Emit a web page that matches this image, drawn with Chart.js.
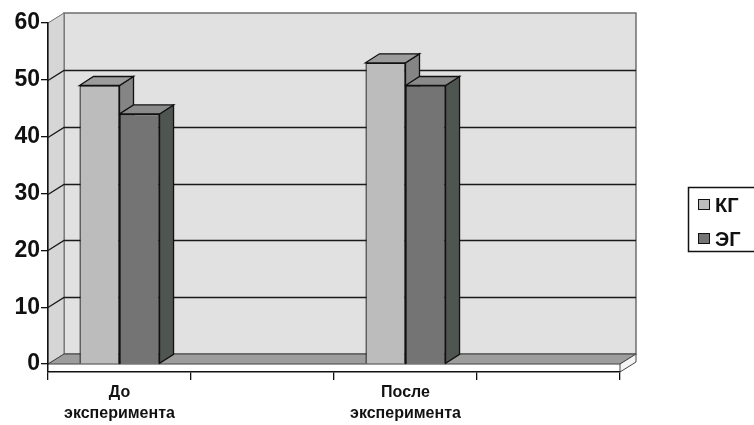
<!DOCTYPE html>
<html>
<head>
<meta charset="utf-8">
<script src="https://cdn.jsdelivr.net/npm/chart.js@4.4.1/dist/chart.umd.min.js"></script>
<style>
    html, body { margin: 0; padding: 0; background: #fff; }
    #wrap { width: 754px; height: 425px; position: relative; }
</style>
</head>
<body>
<div id="wrap"><canvas id="chart"></canvas></div>
<script>
(function () {
    "use strict";

    const categories = [["До", "эксперимента"], "", ["После", "эксперимента"], ""];
    const kgValues = [49, null, 53, null];
    const egValues = [44, null, 49, null];
    const yTicks = [0, 10, 20, 30, 40, 50, 60];
    const seriesNames = ["КГ", "ЭГ"];

    // fake 3D offsets (walls / bars)
    const WALL = { dx: 16, dy: -10 };
    const DEPTH = { dx: 14, dy: -9 };

    const faces = [
        { front: "#bcbcbc", top: "#9c9c9c", side: "#858585" },
        { front: "#747474", top: "#8a8a8a", side: "#4f5652" },
    ];

    const poly = (ctx, pts, fill, stroke, lw) => {
        ctx.beginPath();
        ctx.moveTo(pts[0][0], pts[0][1]);
        for (let i = 1; i < pts.length; i++) ctx.lineTo(pts[i][0], pts[i][1]);
        ctx.closePath();
        if (fill) {
            ctx.fillStyle = fill;
            ctx.fill();
        }
        if (stroke) {
            ctx.strokeStyle = stroke;
            ctx.lineWidth = lw || 1;
            ctx.stroke();
        }
    };

    const walls = {
        id: "walls",
        beforeDraw(chart) {
            const { ctx, chartArea: a, scales } = chart;
            const L = a.left, R = a.right, B = a.bottom;
            const y0 = scales.y.getPixelForValue(0);
            const yTop = scales.y.getPixelForValue(yTicks[yTicks.length - 1]);
            const dx = WALL.dx, dy = WALL.dy;
            ctx.save();
            // back wall
            poly(ctx, [[L + dx, yTop + dy], [R + dx, yTop + dy], [R + dx, y0 + dy], [L + dx, y0 + dy]], "#e1e1e1", "#6f6f6f", 1.5);
            // left side wall
            poly(ctx, [[L, yTop], [L + dx, yTop + dy], [L + dx, y0 + dy], [L, y0]], "#d6d6d6", "#6f6f6f", 1);
            // floor + slab
            poly(ctx, [[L, y0], [R, y0], [R + dx, y0 + dy], [L + dx, y0 + dy]], "#9d9d9d", "#444", 1);
            poly(ctx, [[R, y0], [R + dx, y0 + dy], [R + dx, B + dy], [R, B]], "#f4f4f4", "#444", 1);
            // gridlines
            ctx.strokeStyle = "#1a1a1a";
            ctx.lineWidth = 1.4;
            yTicks.slice(1, -1).forEach((v) => {
                const yy = Math.round(scales.y.getPixelForValue(v)) + 0.5;
                ctx.beginPath();
                ctx.moveTo(L, yy);
                ctx.lineTo(L + dx, yy + dy);
                ctx.lineTo(R + dx, yy + dy);
                ctx.stroke();
            });
            ctx.restore();
        },
    };

    const barDepth = {
        id: "barDepth",
        beforeDatasetsDraw(chart) {
            const ctx = chart.ctx;
            const items = [];
            chart.data.datasets.forEach((ds, i) => {
                chart.getDatasetMeta(i).data.forEach((el, j) => {
                    if (ds.data[j] == null) return;
                    items.push({ el, c: faces[i] });
                });
            });
            items.sort((p, q) => p.el.x - q.el.x);
            ctx.save();
            items.forEach(({ el, c }) => {
                const l = el.x - el.width / 2, r = el.x + el.width / 2;
                const t = el.y, b = el.base;
                poly(ctx, [[r, t], [r + DEPTH.dx, t + DEPTH.dy], [r + DEPTH.dx, b + DEPTH.dy], [r, b]], c.side, "#111", 1.3);
                poly(ctx, [[l, t], [r, t], [r + DEPTH.dx, t + DEPTH.dy], [l + DEPTH.dx, t + DEPTH.dy]], c.top, "#111", 1.3);
            });
            ctx.restore();
        },
    };

    const sideLegend = {
        id: "sideLegend",
        afterDraw(chart) {
            const ctx = chart.ctx;
            ctx.save();
            ctx.strokeStyle = "#111";
            ctx.lineWidth = 1.5;
            ctx.strokeRect(688.5, 187.5, 80, 64);
            ctx.font = "bold 20px 'Liberation Sans', Arial, sans-serif";
            ctx.textBaseline = "middle";
            chart.data.datasets.forEach((ds, i) => {
                const cy = 205 + i * 34;
                ctx.fillStyle = faces[i].front;
                ctx.fillRect(698, cy - 6, 12, 11);
                ctx.lineWidth = 1;
                ctx.strokeRect(698.5, cy - 5.5, 11, 10);
                ctx.fillStyle = "#111";
                ctx.fillText(ds.label, 715, cy + 1);
            });
            ctx.restore();
        },
    };

    new Chart(document.getElementById("chart"), {
        type: "bar",
        data: {
            labels: categories,
            datasets: [
                {
                    label: seriesNames[0],
                    data: kgValues,
                    backgroundColor: faces[0].front,
                    borderColor: "#111",
                    borderWidth: 1.3,
                },
                {
                    label: seriesNames[1],
                    data: egValues,
                    backgroundColor: faces[1].front,
                    borderColor: "#111",
                    borderWidth: 1.3,
                },
            ],
        },
        options: {
            responsive: true,
            maintainAspectRatio: false,
            animation: false,
            categoryPercentage: 0.56,
            barPercentage: 1,
            layout: {
                padding: { top: 23, right: 134, left: 0, bottom: 0 },
            },
            plugins: {
                legend: { display: false },
                tooltip: { enabled: false },
            },
            scales: {
                x: {
                    grid: {
                        offset: true,
                        drawOnChartArea: false,
                        tickLength: 8,
                        color: "#111",
                        lineWidth: 1.3,
                    },
                    border: { color: "#111", width: 1.5 },
                    ticks: {
                        color: "#111",
                        font: { family: "'Liberation Sans', Arial", size: 16, weight: "bold", lineHeight: 1.3 },
                        maxRotation: 0,
                        autoSkip: false,
                        padding: 2,
                    },
                    afterFit(s) {
                        s.height = 53;
                    },
                },
                y: {
                    min: -1.4,
                    max: 60,
                    afterBuildTicks(s) {
                        s.ticks = yTicks.map((v) => ({ value: v }));
                    },
                    grid: {
                        drawOnChartArea: false,
                        tickLength: 7,
                        color: "#111",
                        lineWidth: 1.3,
                    },
                    border: { color: "#111", width: 1.5 },
                    ticks: {
                        color: "#111",
                        font: { family: "'Liberation Sans', Arial", size: 23, weight: "bold" },
                        padding: 1,
                    },
                    afterFit(s) {
                        s.width = 48;
                    },
                },
            },
        },
        plugins: [walls, barDepth, sideLegend],
    });
})();
</script>
</body>
</html>
